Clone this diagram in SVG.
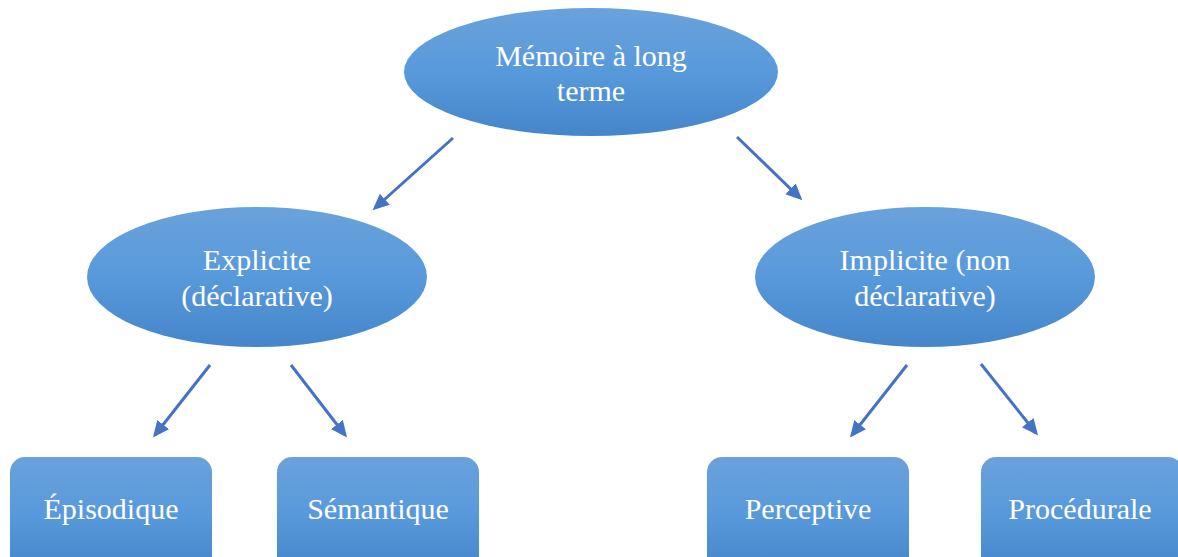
<svg xmlns="http://www.w3.org/2000/svg" width="1178" height="557" viewBox="0 0 1178 557">
<defs>
<linearGradient id="g" x1="0" y1="0" x2="0" y2="1">
<stop offset="0" stop-color="#6aa2db"/>
<stop offset="0.5" stop-color="#5899dc"/>
<stop offset="1" stop-color="#4585c9"/>
</linearGradient>
<marker id="ah" viewBox="0 0 10 10" refX="8" refY="5" markerWidth="5.5" markerHeight="5.5" orient="auto" markerUnits="strokeWidth">
<path d="M0,0.5 L10,5 L0,9.5 z" fill="#4472c4"/>
</marker>
</defs>
<style>
.n{fill:url(#g);}
.t{font-family:"Liberation Serif","Times New Roman",serif;font-size:30px;fill:#ffffff;text-anchor:middle;}
.c line{stroke:#4472c4;stroke-width:3;marker-end:url(#ah);}
</style>
<rect width="1178" height="557" fill="#ffffff"/>
<g id="n-root"><ellipse class="n" cx="591" cy="72" rx="187" ry="64"/><text class="t" x="591" y="66">Mémoire à long</text><text class="t" x="591" y="101">terme</text></g>
<g id="n-explicite"><ellipse class="n" cx="257" cy="277" rx="170" ry="70"/><text class="t" x="257" y="270">Explicite</text><text class="t" x="257" y="306">(déclarative)</text></g>
<g id="n-implicite"><ellipse class="n" cx="925" cy="277" rx="170" ry="70"/><text class="t" x="925" y="270">Implicite (non</text><text class="t" x="925" y="306">déclarative)</text></g>
<g id="n-episodique"><rect class="n" x="10" y="457" width="202" height="115" rx="15"/><text class="t" x="111" y="519">Épisodique</text></g>
<g id="n-semantique"><rect class="n" x="277" y="457" width="202" height="115" rx="15"/><text class="t" x="378" y="519">Sémantique</text></g>
<g id="n-perceptive"><rect class="n" x="707" y="457" width="202" height="115" rx="15"/><text class="t" x="808" y="519">Perceptive</text></g>
<g id="n-procedurale"><rect class="n" x="981" y="457" width="202" height="115" rx="15"/><text class="t" x="1080" y="519">Procédurale</text></g>
<g id="connectors" class="c">
<line x1="453" y1="138" x2="375" y2="208"/>
<line x1="737" y1="137" x2="800" y2="198"/>
<line x1="210" y1="365" x2="155" y2="435"/>
<line x1="291" y1="365" x2="345" y2="435"/>
<line x1="907" y1="365" x2="852" y2="435"/>
<line x1="981" y1="364" x2="1036" y2="433"/>
</g>
</svg>
